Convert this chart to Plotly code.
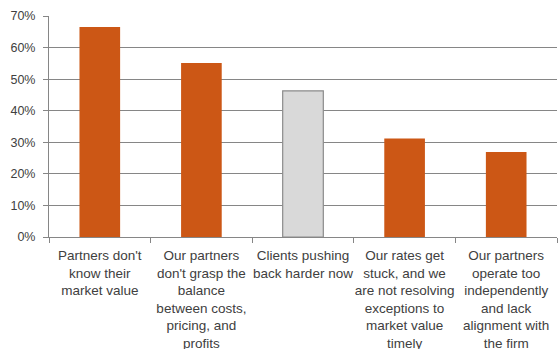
import plotly.graph_objects as go

# Survey responses: share of respondents citing each pricing issue
categories = [
    "Partners don't<br>know their<br>market value",
    "Our partners<br>don't grasp the<br>balance<br>between costs,<br>pricing, and<br>profits",
    "Clients pushing<br>back harder now",
    "Our rates get<br>stuck, and we<br>are not resolving<br>exceptions to<br>market value<br>timely",
    "Our partners<br>operate too<br>independently<br>and lack<br>alignment with<br>the firm",
]
values = [0.665, 0.551, 0.463, 0.312, 0.269]

orange = "#CC5715"
grey_fill = "#D9D9D9"
bar_colors = [orange, orange, grey_fill, orange, orange]
line_colors = [orange, orange, "#8C8C8C", orange, orange]
line_widths = [0, 0, 1.2, 0, 0]

axis_grey = "#868686"
text_color = "#404040"
font_family = "Liberation Sans, Arial, sans-serif"

fig = go.Figure(
    go.Bar(
        x=categories,
        y=values,
        width=0.4,
        marker=dict(
            color=bar_colors,
            line=dict(color=line_colors, width=line_widths),
        ),
    )
)

fig.update_layout(
    width=559,
    height=349,
    margin=dict(l=49, r=2, t=16, b=112),
    paper_bgcolor="white",
    plot_bgcolor="white",
    showlegend=False,
    font=dict(family=font_family, size=13, color=text_color),
)

fig.update_xaxes(
    type="category",
    showline=True,
    linecolor=axis_grey,
    linewidth=1,
    ticks="outside",
    tickson="boundaries",
    ticklen=5,
    tickcolor=axis_grey,
    showgrid=False,
    tickangle=0,
    ticklabelstandoff=6,
    tickfont=dict(family=font_family, size=13.5, color=text_color),
    automargin=False,
)

fig.update_yaxes(
    range=[0, 0.7],
    dtick=0.1,
    tickformat=".0%",
    showline=True,
    linecolor=axis_grey,
    linewidth=1,
    ticks="outside",
    ticklen=5,
    tickcolor=axis_grey,
    showgrid=True,
    gridcolor=axis_grey,
    gridwidth=1,
    zeroline=False,
    ticklabelstandoff=5,
    tickfont=dict(family=font_family, size=12.5, color=text_color),
    automargin=False,
)

fig.write_html("out.html")
